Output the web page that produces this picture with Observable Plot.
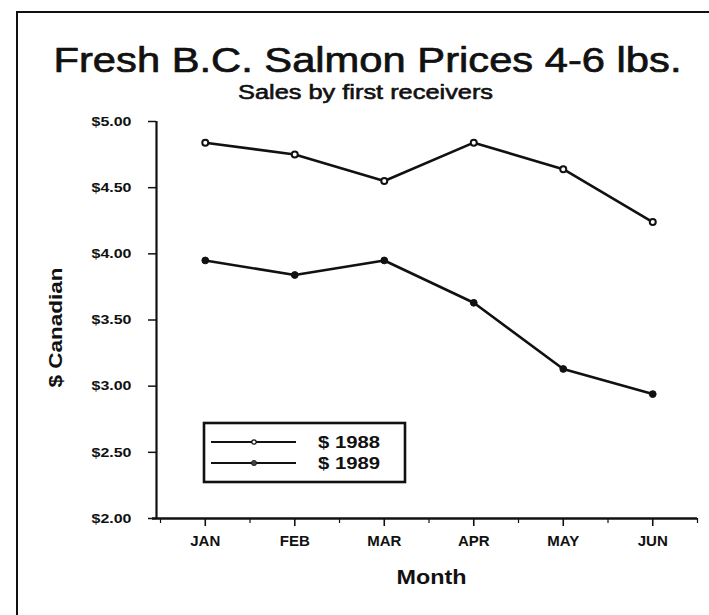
<!DOCTYPE html>
<html>
<head>
<meta charset="utf-8">
<script src="https://cdn.jsdelivr.net/npm/d3@7"></script>
<script src="https://cdn.jsdelivr.net/npm/@observablehq/plot@0.6"></script>
<style>
  html, body { margin: 0; padding: 0; background: #fff; }
  #wrap { position: relative; width: 709px; height: 615px; overflow: hidden; background: #fff; }
  #frame { position: absolute; left: 16px; top: 11px; width: 720px; height: 640px;
           border-left: 2px solid #111; border-top: 2px solid #111; box-sizing: border-box; pointer-events: none; }
  #legend { position: absolute; left: 0; top: 0; }
</style>
</head>
<body>
<div id="wrap"><div id="frame"></div></div>
<script>
const months = ["JAN", "FEB", "MAR", "APR", "MAY", "JUN"];
const price1988 = [4.84, 4.75, 4.55, 4.84, 4.64, 4.24];
const price1989 = [3.95, 3.84, 3.95, 3.63, 3.13, 2.94];
const yTicks = [2.0, 2.5, 3.0, 3.5, 4.0, 4.5, 5.0];
const yTickLabels = ["$2.00", "$2.50", "$3.00", "$3.50", "$4.00", "$4.50", "$5.00"];
const seriesNames = ["$ 1988", "$ 1989"];
const titleText = "Fresh B.C. Salmon Prices 4-6 lbs.";
const subtitleText = "Sales by first receivers";
const xLabel = "Month";
const yLabel = "$ Canadian";

const monthIdx = months.map((m, i) => i + 1);
const data1988 = months.map((m, i) => ({month: i + 1, price: price1988[i]}));
const data1989 = months.map((m, i) => ({month: i + 1, price: price1989[i]}));
const minorTicks = d3.range(0.5, 6.6, 1);

const font = "'Liberation Sans', Arial, Helvetica, sans-serif";

const chart = Plot.plot({
  width: 709,
  height: 615,
  marginLeft: 156,
  marginRight: 12,
  marginTop: 121,
  marginBottom: 97,
  style: {fontFamily: font, background: "transparent", color: "#111", overflow: "visible"},
  x: {domain: [0.455, 6.5], axis: null},
  y: {domain: [2, 5], axis: null},
  marks: [
    Plot.axisY(yTicks, {
      tickSize: 8, tickPadding: 17, strokeWidth: 1.5,
      tickFormat: d => yTickLabels[yTicks.indexOf(d)],
      fontWeight: "bold", fontSize: 13, label: null
    }),
    Plot.axisX(monthIdx, {
      tickSize: 8, tickPadding: 9, strokeWidth: 1.6,
      tickFormat: d => months[d - 1],
      fontWeight: "bold", fontSize: 15, label: null
    }),
    Plot.axisX(minorTicks, {tickSize: 5, strokeWidth: 1.2, text: null, label: null}),
    Plot.ruleX([0.455], {y1: 2, y2: 5, strokeWidth: 2.2, stroke: "#111"}),
    Plot.ruleY([2], {x1: 0.41, x2: 6.5, strokeWidth: 2.4, stroke: "#111"}),
    Plot.line(data1988, {x: "month", y: "price", stroke: "#111", strokeWidth: 2.6}),
    Plot.line(data1989, {x: "month", y: "price", stroke: "#111", strokeWidth: 2.6}),
    Plot.dot(data1988, {x: "month", y: "price", r: 3, fill: "#fff", stroke: "#111", strokeWidth: 2}),
    Plot.dot(data1989, {x: "month", y: "price", r: 3.4, fill: "#111", stroke: "#111", strokeWidth: 1}),
    Plot.text([titleText], {frameAnchor: "top-left", dx: 211, dy: -61, textAnchor: "middle", lineAnchor: "middle",
      fontSize: 35, fill: "#111", stroke: "#111", strokeWidth: 0.7}),
    Plot.text([subtitleText], {frameAnchor: "top-left", dx: 209, dy: -29, textAnchor: "middle", lineAnchor: "middle",
      fontSize: 20, fill: "#111", stroke: "#111", strokeWidth: 0.6}),
    Plot.text([xLabel], {frameAnchor: "bottom-left", dx: 275, dy: 59, textAnchor: "middle", lineAnchor: "middle",
      fontSize: 21, fontWeight: "bold", fill: "#111"}),
    Plot.text([yLabel], {frameAnchor: "left", dx: -100, dy: 7.5, rotate: -90, textAnchor: "middle", lineAnchor: "middle",
      fontSize: 18, fontWeight: "bold", fill: "#111"})
  ]
});

chart.style.position = "absolute";
chart.style.left = "0px";
chart.style.top = "0px";
const wrap = document.getElementById("wrap");
wrap.insertBefore(chart, wrap.firstChild);

const fitText = (content, len) => {
  d3.select(chart).selectAll("text").filter(function () { return this.textContent === content; })
    .attr("textLength", len).attr("lengthAdjust", "spacingAndGlyphs");
};
fitText(titleText, 628);
fitText(subtitleText, 255);
fitText(xLabel, 70);
fitText(yLabel, 120);
yTickLabels.forEach(l => fitText(l, 40));

// Legend box (overlay)
const lg = d3.select(wrap).append("svg").attr("id", "legend").attr("width", 709).attr("height", 615);
lg.append("rect").attr("x", 204).attr("y", 423).attr("width", 201).attr("height", 59)
  .attr("fill", "#fff").attr("stroke", "#111").attr("stroke-width", 2.6);
seriesNames.forEach((name, i) => {
  const y = 442 + i * 21;
  lg.append("line").attr("x1", 211).attr("x2", 296).attr("y1", y).attr("y2", y)
    .attr("stroke", "#111").attr("stroke-width", 2.2);
  lg.append("circle").attr("cx", 254).attr("cy", y).attr("r", i === 0 ? 2.2 : 2.6)
    .attr("fill", i === 0 ? "#fff" : "#444").attr("stroke", "#111").attr("stroke-width", i === 0 ? 1.2 : 0.8);
  lg.append("text").attr("x", 318).attr("y", y).attr("dy", "0.36em")
    .attr("font-family", font).attr("font-weight", "bold").attr("font-size", 16)
    .attr("textLength", 62).attr("lengthAdjust", "spacingAndGlyphs")
    .attr("fill", "#111").text(name);
});
</script>
</body>
</html>
